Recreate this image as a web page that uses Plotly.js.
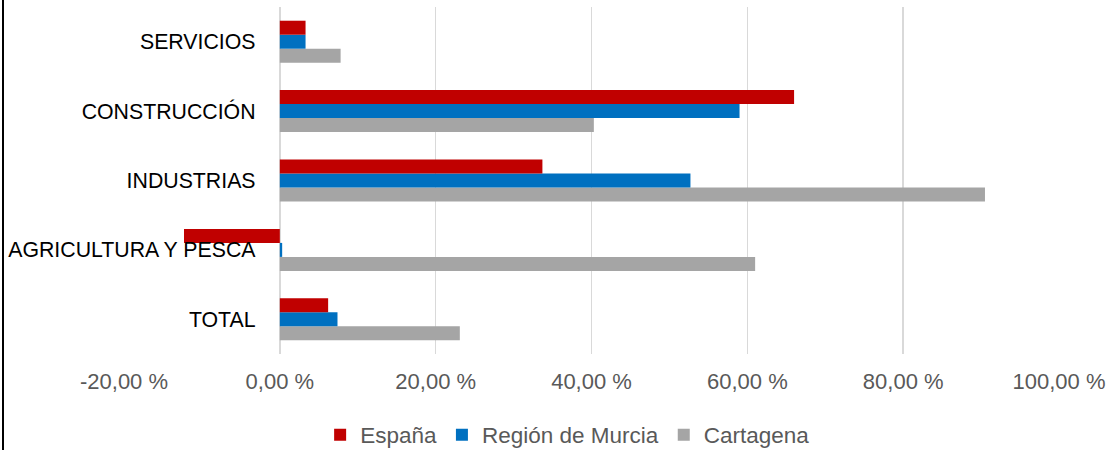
<!DOCTYPE html>
<html>
<head>
<meta charset="utf-8">
<script src="https://cdn.plot.ly/plotly-3.0.1.min.js"></script>
<style>
  html, body { margin: 0; padding: 0; background: #ffffff; }
  #wrap { position: relative; width: 1113px; height: 450px; }
  #chart { width: 1113px; height: 450px; }
  #edge { position: absolute; left: 2px; top: 0; width: 2px; height: 450px; background: #000; }
</style>
</head>
<body>
<div id="wrap">
  <div id="chart"></div>
  <div id="edge"></div>
</div>
<script>
// Categories (bottom to top as drawn)
const categories = ["TOTAL", "AGRICULTURA Y PESCA", "INDUSTRIAS", "CONSTRUCCIÓN", "SERVICIOS"];
// Series values (%)
const espana    = [6.2, -12.3, 33.7, 66.0, 3.3];
const murcia    = [7.4, 0.3, 52.7, 59.0, 3.3];
const cartagena = [23.1, 61.0, 90.5, 40.3, 7.8];
// Series names
const seriesNames = ["España", "Región de Murcia", "Cartagena"];
// x tick values and labels
const xTicks = [-20, 0, 20, 40, 60, 80, 100];
const xTickLabels = ["-20,00 %", "0,00 %", "20,00 %", "40,00 %", "60,00 %", "80,00 %", "100,00 %"];

const colors = ["#C00000", "#0070C0", "#A5A5A5"];

function bar(name, vals, color) {
  return {
    type: "bar",
    orientation: "h",
    name: name,
    y: categories,
    x: vals,
    marker: { color: color, line: { width: 0 } },
    hoverinfo: "x+name"
  };
}

// Order: Cartagena first so España sits on top of each group
const data = [
  bar(seriesNames[2], cartagena, colors[2]),
  bar(seriesNames[1], murcia, colors[1]),
  bar(seriesNames[0], espana, colors[0])
];

const layout = {
  width: 1113,
  height: 450,
  margin: { l: 124, r: 54, t: 7, b: 96, pad: 0 },
  paper_bgcolor: "#ffffff",
  plot_bgcolor: "#ffffff",
  barmode: "group",
  bargap: 0.395,
  bargroupgap: 0,
  font: { family: "Liberation Sans, Arial, sans-serif", color: "#595959" },
  xaxis: {
    range: [-20, 100],
    tickmode: "array",
    tickvals: xTicks,
    ticktext: xTickLabels,
    showgrid: true,
    gridcolor: "#D9D9D9",
    gridwidth: 1.5,
    zeroline: false,
    showline: false,
    ticks: "outside",
    ticklen: 8,
    tickcolor: "rgba(0,0,0,0)",
    tickfont: { size: 22, color: "#595959" },
    fixedrange: true
  },
  yaxis: {
    type: "category",
    categoryorder: "array",
    categoryarray: categories,
    anchor: "free",
    position: (0 - (-20)) / 120,
    showgrid: false,
    zeroline: false,
    showline: false,
    ticks: "outside",
    ticklen: 20,
    tickcolor: "rgba(0,0,0,0)",
    tickfont: { size: 21.3, color: "#000000" },
    fixedrange: true
  },
  showlegend: true,
  legend: {
    orientation: "h",
    traceorder: "reversed",
    xref: "container",
    yref: "container",
    x: 0.51,
    xanchor: "center",
    y: 1 - 435 / 450,
    yanchor: "middle",
    font: { size: 22.5, color: "#595959" },
    itemclick: false,
    itemdoubleclick: false
  }
};

Plotly.newPlot("chart", data, layout, { displayModeBar: false, staticPlot: true });
</script>
</body>
</html>
